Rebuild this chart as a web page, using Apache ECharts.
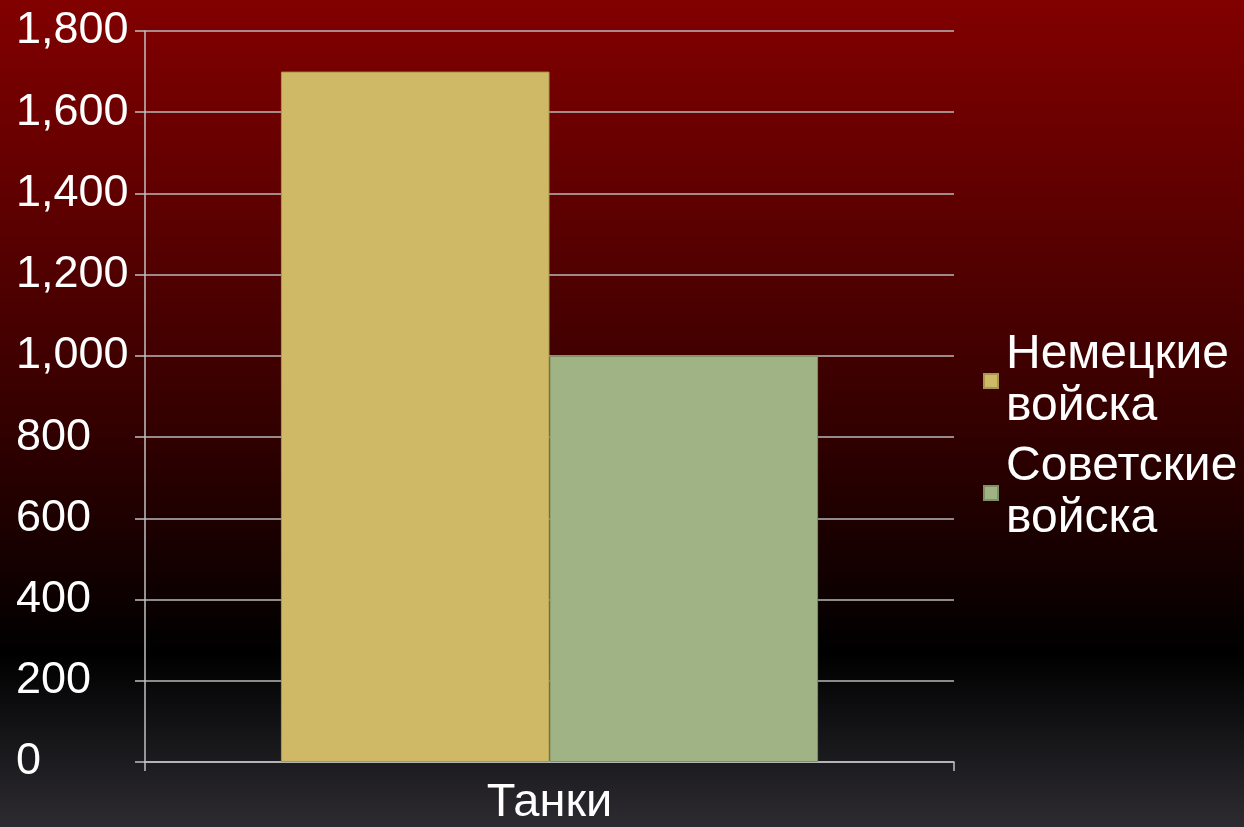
<!DOCTYPE html>
<html>
<head>
<meta charset="utf-8">
<script src="https://cdn.jsdelivr.net/npm/echarts@6/dist/echarts.min.js"></script>
<style>
html,body{margin:0;padding:0;}
#chart{width:1244px;height:827px;}
</style>
</head>
<body>
<div id="chart"></div>
<script>
var categories = ['Танки'];
var seriesNames = ['Немецкие\nвойска', 'Советские\nвойска'];
var germanValues = [1700];
var sovietValues = [1000];
var yTicks = { min: 0, max: 1800, interval: 200 };

var chart = echarts.init(document.getElementById('chart'));
var font = '"Liberation Sans", Arial, sans-serif';
chart.setOption({
  backgroundColor: {
    type: 'linear', x: 0, y: 0, x2: 0, y2: 1,
    colorStops: [
      { offset: 0, color: '#820000' },
      { offset: 0.25, color: '#5e0000' },
      { offset: 0.5, color: '#360000' },
      { offset: 0.7, color: '#110000' },
      { offset: 0.79, color: '#000000' },
      { offset: 1, color: '#2d2b31' }
    ]
  },
  animation: false,
  grid: { left: 145, right: 290, top: 31, bottom: 64, containLabel: false },
  legend: {
    orient: 'vertical',
    left: 978,
    top: 324,
    itemWidth: 14,
    itemHeight: 14,
    itemGap: 8,
    icon: 'rect',
    textStyle: { color: '#ffffff', fontSize: 48, fontFamily: font, lineHeight: 52, padding: [0, 0, 0, 3] },
    data: seriesNames
  },
  xAxis: {
    type: 'category',
    data: categories,
    axisLine: { lineStyle: { color: '#c0c0c0', width: 1.5 } },
    axisTick: { show: true, length: 9, lineStyle: { color: '#c0c0c0', width: 1.5 } },
    axisLabel: { color: '#ffffff', fontSize: 47, fontFamily: font, margin: 18 }
  },
  yAxis: {
    type: 'value',
    min: yTicks.min, max: yTicks.max, interval: yTicks.interval,
    axisLine: { show: true, lineStyle: { color: '#c0c0c0', width: 1.5 } },
    axisTick: { show: true, length: 10, lineStyle: { color: '#c0c0c0', width: 1.5 } },
    splitLine: { lineStyle: { color: '#b8b8b8', width: 1.5 } },
    axisLabel: {
      color: '#ffffff', fontSize: 45, fontFamily: font,
      align: 'left', margin: 129, padding: [6, 0, 0, 0],
      formatter: function (v) { return v.toLocaleString('en-US'); }
    }
  },
  series: [
    {
      name: seriesNames[0], type: 'bar', data: germanValues,
      barGap: '0%', barCategoryGap: '33.6%',
      itemStyle: { color: '#cfb966', borderColor: '#a8984f', borderWidth: 1 }
    },
    {
      name: seriesNames[1], type: 'bar', data: sovietValues,
      itemStyle: { color: '#a0b385', borderColor: '#7f8f66', borderWidth: 1 }
    }
  ]
});
</script>
</body>
</html>
